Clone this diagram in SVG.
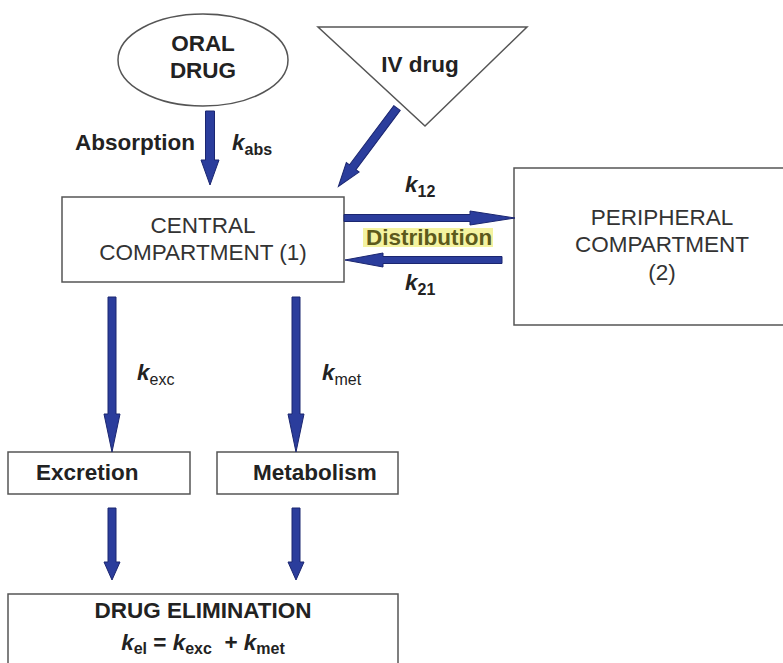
<svg xmlns="http://www.w3.org/2000/svg" width="783" height="663" viewBox="0 0 783 663">
<style>
.box{fill:#fff;stroke:#555;stroke-width:1.5}
.arr{fill:#2b3d9c;stroke:#1b2670;stroke-width:1}
.t{font-family:"Liberation Sans",Arial,sans-serif;font-size:22.5px;fill:#333}
.b{font-family:"Liberation Sans",Arial,sans-serif;font-size:22.5px;font-weight:bold;fill:#222}
.k{font-style:italic;font-weight:bold}
.s{font-size:16px;font-style:normal}
.r{font-weight:normal}
</style>
<rect width="783" height="663" fill="#fff"/>
<g id="oral">
<ellipse class="box" cx="203" cy="60" rx="85" ry="46"/>
<text class="b" x="203" y="51" text-anchor="middle">ORAL</text>
<text class="b" x="203" y="78" text-anchor="middle">DRUG</text>
</g>
<g id="iv">
<polygon class="box" points="318,27 527,27 425,126"/>
<text class="b" x="420" y="72" text-anchor="middle">IV drug</text>
</g>
<g id="central">
<rect class="box" x="62" y="197" width="282" height="85"/>
<text class="t" x="203" y="233" text-anchor="middle">CENTRAL</text>
<text class="t" x="203" y="260" text-anchor="middle">COMPARTMENT (1)</text>
</g>
<g id="peripheral">
<rect class="box" x="514" y="168" width="280" height="157"/>
<text class="t" x="662" y="225" text-anchor="middle">PERIPHERAL</text>
<text class="t" x="662" y="252" text-anchor="middle">COMPARTMENT</text>
<text class="t" x="662" y="280" text-anchor="middle">(2)</text>
</g>
<g id="excretion">
<rect class="box" x="8" y="452" width="182" height="42"/>
<text class="b" x="36" y="480">Excretion</text>
</g>
<g id="metabolism">
<rect class="box" x="217" y="452" width="181" height="42"/>
<text class="b" x="253" y="480">Metabolism</text>
</g>
<g id="elimination">
<rect class="box" x="8" y="594" width="390" height="80"/>
<text class="b" x="203" y="618" text-anchor="middle">DRUG ELIMINATION</text>
<text class="b" x="203" y="650" text-anchor="middle" xml:space="preserve"><tspan class="k">k</tspan><tspan class="s" dy="4">el</tspan><tspan dy="-4"> = </tspan><tspan class="k">k</tspan><tspan class="s" dy="4">exc</tspan><tspan dy="-4">  + </tspan><tspan class="k">k</tspan><tspan class="s" dy="4">met</tspan></text>
</g>
<g id="connectors">
<polygon class="arr" points="205.5,111 214.5,111 214.5,160 219,160 210,185 201,160 205.5,160"/>
<polygon class="arr" transform="translate(397,108) rotate(126.75)" points="0,-4 74,-4 74,-8 98,0 74,8 74,4 0,4"/>
<polygon class="arr" points="344,214.5 470,214.5 470,211 515,218 470,225 470,221.5 344,221.5"/>
<polygon class="arr" points="502,256.5 383,256.5 383,253 345,260 383,267 383,263.5 502,263.5"/>
<polygon class="arr" points="108,297 116,297 116,414 120,414 112,452 104,414 108,414"/>
<polygon class="arr" points="292,297 300,297 300,414 304,414 296,452 288,414 292,414"/>
<polygon class="arr" points="108,508 116,508 116,562 120,562 112,580 104,562 108,562"/>
<polygon class="arr" points="292,508 300,508 300,562 304,562 296,580 288,562 292,562"/>
</g>
<g id="labels">
<text class="b" x="75" y="150">Absorption</text>
<text class="b" x="232" y="150"><tspan class="k">k</tspan><tspan class="s" dy="5">abs</tspan></text>
<text class="b" x="405" y="192"><tspan class="k">k</tspan><tspan class="s" dy="5">12</tspan></text>
<rect x="363" y="228" width="130" height="19" fill="#f4f3a0"/>
<text class="b" x="366" y="245" style="fill:#5c5a1c">Distribution</text>
<text class="b" x="405" y="290"><tspan class="k">k</tspan><tspan class="s" dy="5">21</tspan></text>
<text class="b" x="137" y="380"><tspan class="k">k</tspan><tspan class="s r" dy="5">exc</tspan></text>
<text class="b" x="322" y="380"><tspan class="k">k</tspan><tspan class="s r" dy="5">met</tspan></text>
</g>
</svg>
